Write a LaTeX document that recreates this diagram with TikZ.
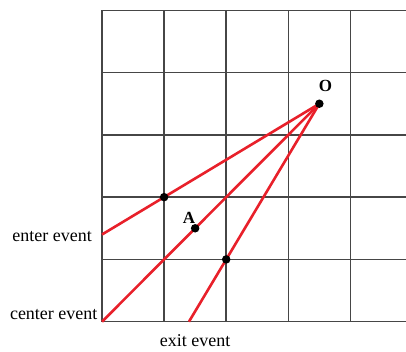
\documentclass[tikz,border=0pt]{standalone}
\usepackage{fontspec}
\setmainfont{Liberation Serif}
\definecolor{raycol}{RGB}{232,32,42}
\definecolor{gridcol}{RGB}{70,70,70}
\begin{document}
\begin{tikzpicture}[x=1pt,y=-1pt,
  gridline/.style={draw=gridcol,line width=1.5pt},
  ray/.style={draw=raycol,line width=2.6pt},
  dot/.style={circle,fill=black,inner sep=0pt,minimum size=8.5pt},
  lab/.style={font=\fontsize{18}{20}\selectfont,inner sep=0pt},
  letter/.style={font=\fontsize{17}{19}\selectfont\bfseries,inner sep=0pt}]
\useasboundingbox (0,0) rectangle (406,351);
\begin{scope}[shift={(102pt,-10.3pt)},x=62.1pt,y=-62.28pt]
  \foreach \i in {0,...,4} \draw[gridline] (\i,0) -- (\i,5);
  \foreach \j in {0,...,5} \draw[gridline] (0,\j) -- (4.9,\j);
  \coordinate (O) at (3.5,1.5);
  \coordinate (enterEnd) at (0,3.6);
  \coordinate (centerEnd) at (0,5);
  \coordinate (exitEnd) at (1.4,5);
  \draw[ray] (O) -- (enterEnd);
  \draw[ray] (O) -- (centerEnd);
  \draw[ray] (O) -- (exitEnd);
  \node[dot] (dO) at (O) {};
  \node[dot] (dEnter) at (1,3) {};
  \node[dot] (dA) at (1.5,3.5) {};
  \node[dot] (dExit) at (2,4) {};
  \node[letter] (lO) at (3.6,1.215) {O};
  \node[letter] (lA) at (1.4,3.335) {A};
  \node[lab,anchor=east] (lEnter) at (-0.16,3.64) {enter event};
  \node[lab,anchor=east] (lCenter) at (-0.07,4.89) {center event};
  \node[lab] (lExit) at (1.5,5.3) {exit event};
\end{scope}
\end{tikzpicture}
\end{document}
